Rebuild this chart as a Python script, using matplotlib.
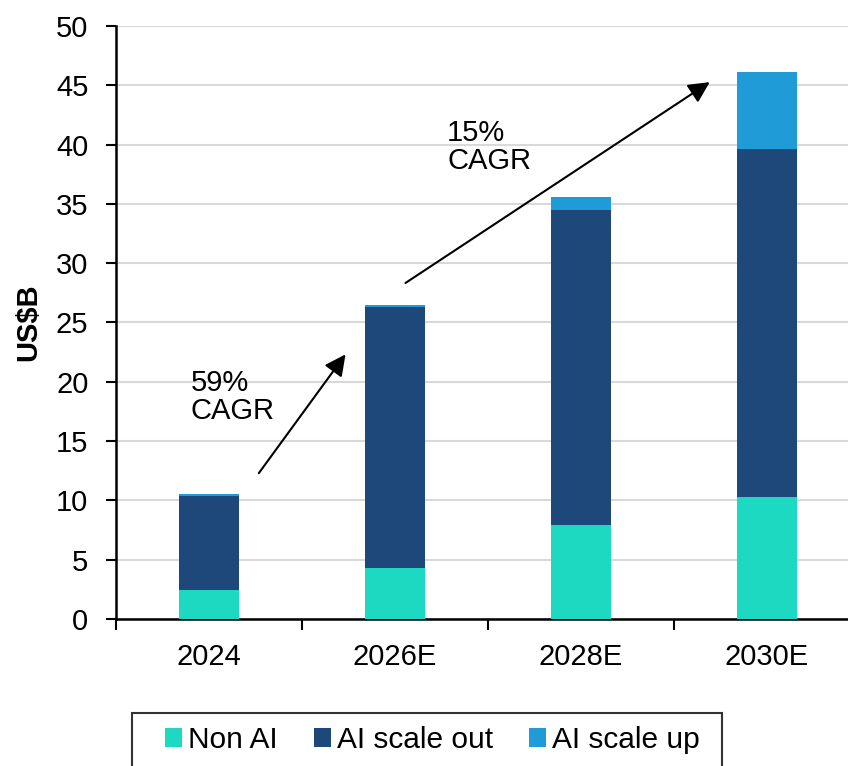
import numpy as np
import matplotlib.pyplot as plt
from matplotlib.ticker import FixedLocator
from matplotlib.offsetbox import DrawingArea, HPacker

plt.rcParams['font.family'] = ['Liberation Sans', 'DejaVu Sans']

years = ['2024', '2026E', '2028E', '2030E']
non_ai = [2.4, 4.3, 7.9, 10.3]
scale_out = [8.0, 22.0, 26.6, 29.3]
scale_up = [0.15, 0.2, 1.1, 6.55]

c_non = '#1ED9C1'
c_out = '#1F487A'
c_up = '#1F9BD7'

fs = 21

fig = plt.figure(figsize=(8.48, 7.66), dpi=100)
ax = fig.add_axes([0.137, 0.192, 0.863, 0.774])

x = np.arange(len(years))
w = 0.32
non_ai = np.array(non_ai)
scale_out = np.array(scale_out)
scale_up = np.array(scale_up)

ax.bar(x, non_ai, w, color=c_non, label='Non AI', zorder=3)
ax.bar(x, scale_out, w, bottom=non_ai, color=c_out, label='AI scale out', zorder=3)
ax.bar(x, scale_up, w, bottom=non_ai + scale_out, color=c_up, label='AI scale up', zorder=3)

ax.set_xlim(-0.5, 3.435)
ax.set_ylim(0, 50)
ax.set_yticks(np.arange(0, 51, 5))
ax.set_xticks(x)
ax.set_xticklabels(years)
ax.xaxis.set_minor_locator(FixedLocator(np.arange(-0.5, 4, 1)))
ax.tick_params(axis='x', which='major', length=0, pad=17, labelsize=fs)
ax.tick_params(axis='x', which='minor', length=8, width=1.5, direction='out')
ax.tick_params(axis='y', length=7, width=1.5, labelsize=fs, pad=13)
ax.grid(axis='y', color='#D9D9D9', linewidth=1.5, zorder=0)

for s in ['top', 'right']:
    ax.spines[s].set_visible(False)
ax.spines['left'].set_linewidth(1.8)
ax.spines['bottom'].set_linewidth(1.8)

ax.set_ylabel('US$B', fontsize=fs, fontweight='bold', labelpad=10)

# CAGR arrows
ax.annotate('', xy=(0.742, 22.5), xytext=(0.258, 12.1),
            arrowprops=dict(arrowstyle='-|>', color='black', lw=1.5,
                            mutation_scale=32), zorder=4)
ax.annotate('', xy=(2.704, 45.4), xytext=(1.043, 28.2),
            arrowprops=dict(arrowstyle='-|>', color='black', lw=1.5,
                            mutation_scale=32), zorder=4)
ax.text(-0.10, 21.1, '59%\nCAGR', fontsize=fs, va='top', ha='left', linespacing=1.0)
ax.text(1.28, 42.2, '15%\nCAGR', fontsize=fs, va='top', ha='left', linespacing=1.0)

leg = fig.legend(loc='upper left', bbox_to_anchor=(0.156, 0.0695), ncol=3,
                 fontsize=21.5, frameon=True, fancybox=False, edgecolor='black',
                 handlelength=0.57, handleheight=0.57, handletextpad=0.2,
                 columnspacing=1.2, borderpad=0.45, borderaxespad=0)
leg.get_frame().set_linewidth(1.5)
# extra horizontal padding inside the legend box (wider than the vertical one)
outer = leg._legend_box.get_children()
padded = HPacker(pad=0, sep=0, align='center',
                 children=[DrawingArea(14, 0), leg._legend_handle_box, DrawingArea(7, 0)])
outer[outer.index(leg._legend_handle_box)] = padded
padded.set_figure(fig)

fig.savefig('out.png', dpi=100)
